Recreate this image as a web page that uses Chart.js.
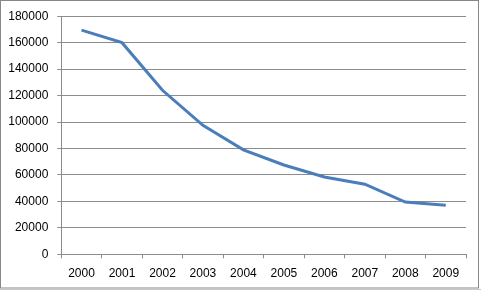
<!DOCTYPE html>
<html lang="en">
<head>
    <meta charset="UTF-8">
    <title>Line chart 2000-2009</title>
    <script src="https://cdn.jsdelivr.net/npm/chart.js"></script>
    <style>
        html, body {
            margin: 0;
            padding: 0;
            background: #fff;
        }
        #wrap {
            position: relative;
            width: 481px;
            height: 291px;
        }
    </style>
</head>
<body>
    <div id="wrap">
        <canvas id="lineChart" width="481" height="291"></canvas>
    </div>

    <script>
        // du lieu doc tu hinh
        const years = ['2000', '2001', '2002', '2003', '2004', '2005', '2006', '2007', '2008', '2009'];
        const values = [169500, 160000, 124000, 97500, 79000, 67500, 58500, 53000, 39500, 37000];
        const yTicks = [0, 20000, 40000, 60000, 80000, 100000, 120000, 140000, 160000, 180000];

        const gridColor = '#8c8c8c';

        // khung vien quanh bieu do
        const framePlugin = {
            id: 'frame',
            afterDraw(chart) {
                const ctx = chart.ctx;
                ctx.save();
                ctx.strokeStyle = '#878787';
                ctx.lineWidth = 1;
                ctx.strokeRect(0.5, 0.5, 478, 287.5);
                ctx.beginPath();
                ctx.moveTo(0, 289.5);
                ctx.lineTo(481, 289.5);
                ctx.strokeStyle = '#c8c8c8';
                ctx.stroke();
                ctx.restore();
            }
        };

        const ctx = document.getElementById('lineChart').getContext('2d');
        new Chart(ctx, {
            type: 'line',
            data: {
                labels: years,
                datasets: [{
                    data: values,
                    borderColor: '#4a7ebb',
                    borderWidth: 3,
                    pointRadius: 0,
                    tension: 0,
                    fill: false
                }]
            },
            options: {
                responsive: false,
                animation: false,
                layout: {
                    padding: { left: 0, right: 15, top: 14, bottom: 0 }
                },
                plugins: {
                    legend: { display: false },
                    tooltip: { enabled: false }
                },
                scales: {
                    x: {
                        offset: true,
                        grid: {
                            offset: true,
                            drawOnChartArea: false,
                            drawTicks: true,
                            tickLength: 4,
                            color: gridColor
                        },
                        border: { color: gridColor },
                        ticks: {
                            color: '#000',
                            padding: 8,
                            maxRotation: 0,
                            font: { family: 'Liberation Sans', size: 12 }
                        },
                        afterFit(scale) { scale.height = 36.7; }
                    },
                    y: {
                        min: 0,
                        max: 180000,
                        afterBuildTicks(scale) {
                            scale.ticks = yTicks.map(v => ({ value: v }));
                        },
                        grid: {
                            color: gridColor,
                            tickLength: 4
                        },
                        border: { color: gridColor },
                        ticks: {
                            color: '#000',
                            padding: 9,
                            font: { family: 'Liberation Sans', size: 12 },
                            callback: v => String(v)
                        },
                        afterFit(scale) { scale.width = 61.3; }
                    }
                }
            },
            plugins: [framePlugin]
        });
    </script>
</body>
</html>
